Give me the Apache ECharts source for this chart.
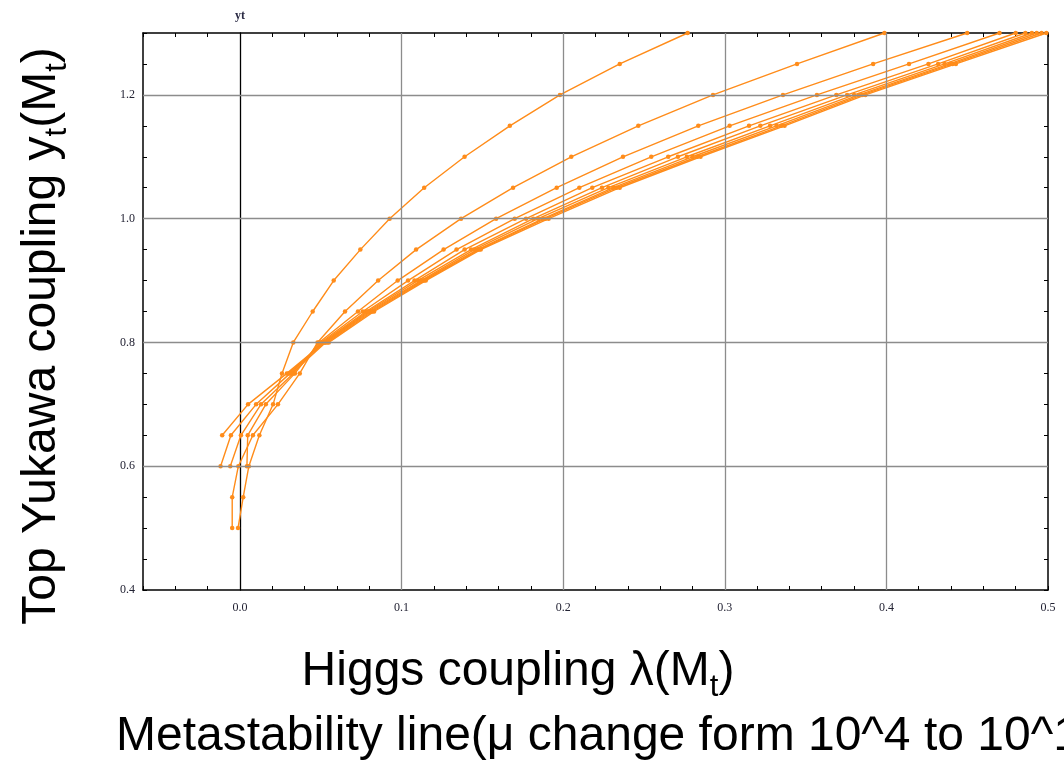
<!DOCTYPE html>
<html>
<head>
<meta charset="utf-8">
<script src="https://cdn.jsdelivr.net/npm/echarts@6/dist/echarts.min.js"></script>
<style>html,body{margin:0;padding:0;background:#fff;}#c{width:1064px;height:767px;}</style>
</head>
<body>
<div id="c"></div>
<script>
// y values (top Yukawa coupling) at which each curve has a point
const yLevels = [0.5,0.55,0.6,0.65,0.7,0.75,0.8,0.85,0.9,0.95,1.0,1.05,1.1,1.15,1.2,1.25,1.3];
// lambda values of each metastability line (null = curve not started yet)
const curveA = [-0.0012,0.002,0.0055,0.012,0.0205,0.026,0.033,0.045,0.058,0.0745,0.0926,0.114,0.139,0.167,0.198,0.235,0.277];
const curveB = [-0.0048,-0.0048,-0.001,0.008,0.0235,0.037,0.048,0.065,0.0855,0.109,0.1368,0.169,0.205,0.2465,0.2927,0.3447,0.3988];
const curveC = [null,null,0.0043,0.0048,0.016,0.034,0.049,0.073,0.0976,0.126,0.1585,0.196,0.237,0.2836,0.336,0.3918,0.45];
const curveD = [null,null,-0.006,0.0006,0.013,0.033,0.050,0.076,0.104,0.134,0.170,0.21,0.2545,0.303,0.357,0.414,0.470];
const curveE = [null,null,-0.012,-0.0056,0.010,0.031,0.051,0.078,0.108,0.139,0.177,0.218,0.265,0.315,0.369,0.426,0.480];
const curveF = [null,null,null,-0.011,0.005,0.029,0.052,0.079,0.110,0.143,0.1815,0.224,0.271,0.322,0.3757,0.432,0.486];
const curveG = [null,null,null,null,null,0.030,0.0525,0.080,0.112,0.145,0.1845,0.228,0.2765,0.328,0.380,0.436,0.490];
const curveH = [null,null,null,null,null,0.032,0.053,0.081,0.113,0.147,0.1876,0.231,0.280,0.332,0.383,0.439,0.493];
const curveI = [null,null,null,null,null,null,0.054,0.082,0.114,0.148,0.189,0.233,0.283,0.335,0.385,0.441,0.496];
const curveJ = [null,null,null,null,null,null,0.055,0.083,0.115,0.149,0.191,0.235,0.285,0.337,0.387,0.443,0.499];
const curves = [curveA,curveB,curveC,curveD,curveE,curveF,curveG,curveH,curveI,curveJ];

const xGrid = [0.1,0.2,0.3,0.4];
const yGrid = [0.6,0.8,1.0,1.2];

const ORANGE = '#ff8c1a';
const chart = echarts.init(document.getElementById('c'), null, {renderer:'canvas'});

function isMult(v, step){ const r = v/step; return Math.abs(r-Math.round(r)) < 1e-6; }
const labelStyle = {fontFamily:'Liberation Serif', fontSize:12, color:'#222233'};

const frameLine = {show:true, onZero:false, lineStyle:{color:'#000', width:1.5}};
const tickIn = {show:true, inside:true, length:4, lineStyle:{color:'#000', width:1}};

const series = [{
  type:'line', xAxisIndex:0, yAxisIndex:0, z:1,
  data:[[0.25,0.85]], showSymbol:false, symbolSize:0, lineStyle:{width:0}, silent:true,
  markLine:{
    silent:true, symbol:'none', label:{show:false}, animation:false,
    lineStyle:{color:'#8c8c8c', width:1.3, type:'solid'},
    data: xGrid.map(v=>({xAxis:v})).concat(yGrid.map(v=>({yAxis:v})))
  }
}];
curves.forEach(function(c){
  const d = [];
  c.forEach(function(lam,i){ if(lam!==null) d.push([lam, yLevels[i]]); });
  series.push({
    type:'line', xAxisIndex:0, yAxisIndex:0, z:3,
    data:d, smooth:false, symbol:'circle', symbolSize:4.5, showSymbol:true,
    itemStyle:{color:ORANGE}, lineStyle:{color:ORANGE, width:1.4},
    clip:true
  });
});

const richTitle = {
  m:{fontFamily:'Liberation Sans', fontSize:48, lineHeight:62, color:'#000', verticalAlign:'middle'},
  s:{fontFamily:'Liberation Sans', fontSize:31, lineHeight:31, color:'#000', verticalAlign:'bottom'}
};

const option = {
  animation:false,
  grid:{left:143, right:16, top:33, bottom:177, containLabel:false},
  xAxis:[
    {type:'value', position:'bottom', min:-0.06, max:0.5, interval:0.02,
     axisLine:frameLine, axisTick:tickIn, splitLine:{show:false},
     axisLabel:Object.assign({margin:12, formatter:function(v){return isMult(v,0.1)?v.toFixed(1):'';}}, labelStyle)},
    {type:'value', position:'top', min:-0.06, max:0.5, interval:0.02,
     axisLine:frameLine, axisTick:tickIn, splitLine:{show:false}, axisLabel:{show:false}}
  ],
  yAxis:[
    {type:'value', position:'left', min:0.4, max:1.3, interval:0.05,
     axisLine:frameLine, axisTick:tickIn, splitLine:{show:false},
     axisLabel:Object.assign({margin:8, formatter:function(v){return isMult(v,0.2)?v.toFixed(1):'';}}, labelStyle)},
    {type:'value', position:'right', min:0.4, max:1.3, interval:0.05,
     axisLine:frameLine, axisTick:tickIn, splitLine:{show:false}, axisLabel:{show:false}},
    {type:'value', position:'left', min:0.4, max:1.3, interval:0.05,
     axisLine:{show:true, onZero:true, onZeroAxisIndex:0, lineStyle:{color:'#000', width:1.3}},
     axisTick:{show:false}, axisLabel:{show:false}, splitLine:{show:false},
     name:'yt', nameLocation:'end', nameGap:11,
     nameTextStyle:{fontFamily:'Liberation Serif', fontWeight:'bold', fontSize:12, color:'#2a2a44'}}
  ],
  graphic:[
    {type:'text', x:518, y:672, z:10,
     style:{text:'{m|Higgs coupling λ(M}{s|t}{m|)}', align:'center', verticalAlign:'middle', rich:richTitle}},
    {type:'text', x:116, y:737, z:10,
     style:{text:'Metastability line(μ change form 10^4 to 10^13)', align:'left', verticalAlign:'middle',
       fontFamily:'Liberation Sans', fontSize:48, fill:'#000'}},
    {type:'text', x:42, y:336, rotation:Math.PI/2, z:10,
     style:{text:'{m|Top Yukawa coupling y}{s|t}{m|(M}{s|t}{m|)}', align:'center', verticalAlign:'middle', rich:richTitle}}
  ],
  series:series
};
chart.setOption(option);
</script>
</body>
</html>
